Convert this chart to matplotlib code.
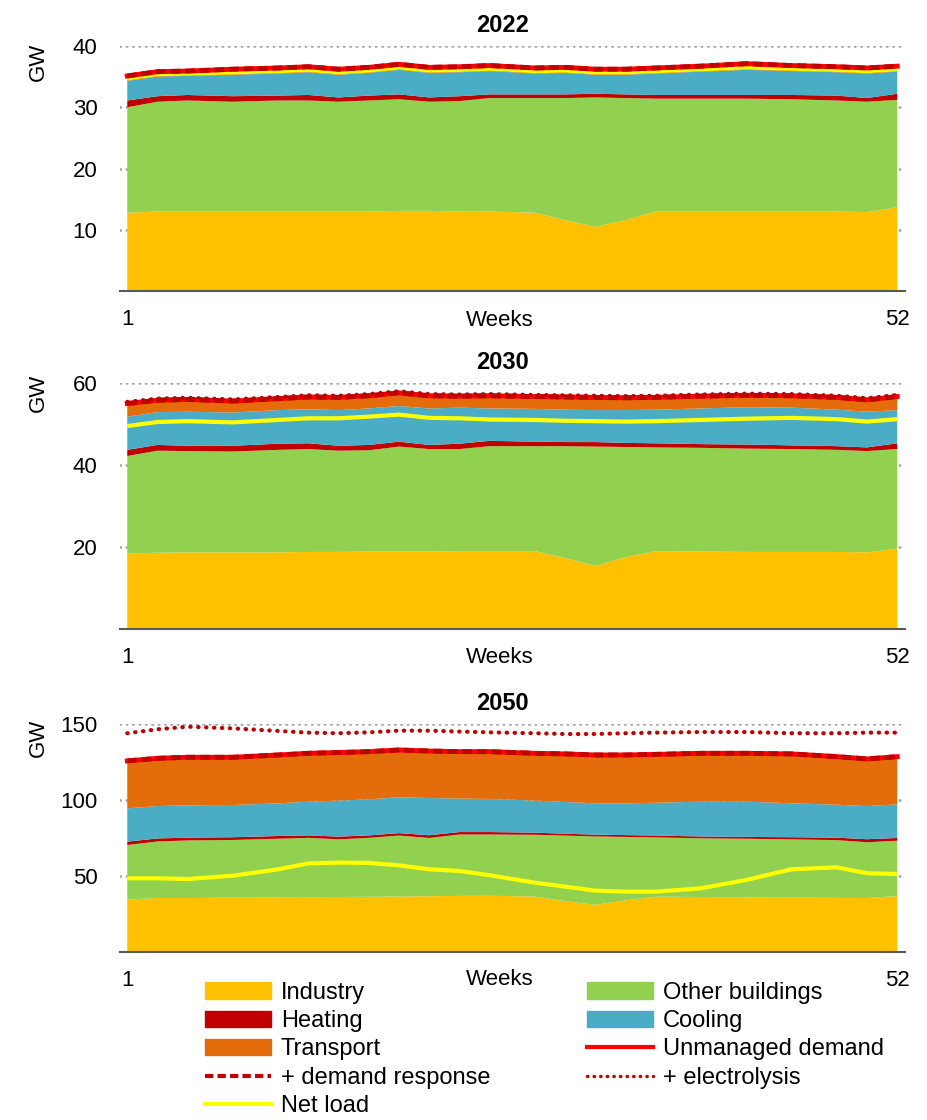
import matplotlib
matplotlib.use('Agg')
import matplotlib.pyplot as plt
from matplotlib.patches import Patch
from matplotlib.lines import Line2D

plt.rcParams['font.family'] = ['Liberation Sans Narrow', 'Liberation Sans', 'DejaVu Sans']

# sample weeks
weeks = [1, 3, 5, 8, 11, 13, 15, 17, 19, 21, 23, 25, 28, 30, 32, 34, 36, 39, 42, 45, 48, 50, 52]

# 2022 (GW per layer)
ind_2022 = [12.8, 13.0, 13.0, 13.0, 13.0, 13.0, 13.0, 13.0, 13.1, 13.1, 13.0, 13.0, 12.8, 11.6, 10.5, 11.6, 13.0, 13.0, 13.0, 13.0, 13.0, 12.9, 13.7]
oth_2022 = [17.2, 17.9, 18.1, 17.9, 18.1, 18.1, 17.9, 18.1, 18.2, 17.8, 18.0, 18.5, 18.7, 19.9, 21.1, 19.9, 18.4, 18.4, 18.4, 18.3, 18.1, 18.0, 17.5]
heat_2022 = [1.1, 0.9, 0.9, 0.9, 0.8, 0.9, 0.7, 0.8, 0.8, 0.7, 0.8, 0.6, 0.6, 0.6, 0.6, 0.6, 0.6, 0.6, 0.6, 0.7, 0.8, 0.6, 1.0]
cool_2022 = [3.2, 3.2, 3.1, 3.5, 3.6, 3.7, 3.7, 3.7, 4.0, 4.0, 3.9, 3.8, 3.4, 3.5, 3.1, 3.2, 3.5, 3.8, 4.1, 3.9, 3.8, 4.0, 3.6]
trans_2022 = [0.8, 0.8, 0.8, 0.9, 0.9, 0.9, 0.9, 0.9, 0.9, 0.9, 0.9, 0.9, 0.9, 0.9, 0.9, 0.9, 0.9, 0.9, 1.0, 0.9, 0.9, 0.9, 0.9]
net_2022 = [34.7, 35.4, 35.5, 35.7, 35.9, 36.1, 35.7, 36.0, 36.5, 36.0, 36.1, 36.3, 35.9, 36.0, 35.7, 35.7, 35.9, 36.2, 36.5, 36.3, 36.1, 35.9, 36.2]
elec_2022 = None  # same as demand

# 2030
ind_2030 = [18.4, 18.6, 18.7, 18.7, 18.7, 18.8, 18.8, 18.9, 18.9, 18.9, 19.0, 19.0, 19.0, 17.3, 15.4, 17.5, 19.0, 18.9, 18.8, 18.8, 18.8, 18.7, 19.6]
oth_2030 = [23.8, 24.9, 24.7, 24.6, 25.0, 25.1, 24.7, 24.7, 25.6, 25.0, 24.9, 25.6, 25.6, 27.3, 29.1, 26.9, 25.3, 25.3, 25.2, 25.1, 24.9, 24.7, 24.3]
heat_2030 = [1.5, 1.4, 1.3, 1.4, 1.5, 1.4, 1.2, 1.3, 1.2, 1.0, 1.3, 1.3, 1.1, 1.0, 1.1, 1.0, 1.0, 0.9, 1.0, 0.9, 0.9, 0.9, 1.4]
cool_2030 = [8.1, 8.0, 8.3, 8.1, 8.2, 8.3, 8.7, 8.9, 8.7, 8.9, 8.8, 7.9, 8.0, 7.9, 7.8, 8.0, 8.2, 8.7, 9.1, 9.2, 8.9, 8.7, 8.1]
trans_2030 = [3.2, 2.9, 3.0, 2.8, 2.8, 3.0, 3.1, 3.1, 3.2, 3.1, 2.8, 3.1, 3.0, 3.1, 3.1, 3.0, 3.0, 3.0, 2.9, 2.9, 3.0, 2.9, 3.3]
net_2030 = [49.5, 50.5, 50.7, 50.4, 51.0, 51.4, 51.4, 51.8, 52.3, 51.5, 51.4, 51.1, 51.0, 50.8, 50.7, 50.6, 50.7, 51.0, 51.3, 51.5, 51.2, 50.6, 51.2]
elec_2030 = [55.4, 56.2, 56.4, 56.0, 56.6, 57.0, 56.9, 57.3, 58.0, 57.3, 57.2, 57.3, 57.1, 57.0, 56.9, 56.8, 56.9, 57.2, 57.4, 57.3, 56.9, 56.3, 57.1]

# 2050
ind_2050 = [34.5, 35.5, 35.5, 35.8, 36.0, 36.1, 36.2, 36.3, 36.5, 36.7, 36.9, 37.0, 36.5, 33.5, 31.0, 34.0, 36.4, 36.2, 36.0, 35.8, 35.6, 35.5, 36.8]
oth_2050 = [35.9, 37.2, 37.9, 37.9, 38.5, 39.0, 37.9, 38.8, 40.1, 38.3, 40.4, 40.3, 40.6, 43.1, 45.0, 41.7, 39.0, 38.6, 38.5, 38.3, 38.0, 36.7, 36.4]
heat_2050 = [2.2, 2.0, 1.8, 1.8, 1.8, 1.6, 1.8, 1.6, 1.6, 1.8, 1.6, 1.6, 1.4, 1.2, 1.2, 1.2, 1.2, 1.2, 1.2, 1.4, 1.6, 2.0, 1.8]
cool_2050 = [21.9, 21.3, 21.3, 21.2, 21.5, 22.2, 23.7, 23.7, 23.6, 24.5, 22.0, 21.8, 21.1, 20.9, 20.6, 20.9, 21.6, 22.9, 23.2, 22.3, 21.7, 21.8, 22.1]
trans_2050 = [31.2, 31.4, 31.6, 31.4, 31.8, 31.8, 31.6, 31.4, 31.1, 30.9, 30.9, 31.1, 31.1, 31.6, 31.8, 31.8, 31.8, 31.8, 31.8, 32.5, 31.6, 31.0, 31.4]
net_2050 = [48.5, 48.5, 48.0, 50.2, 54.4, 58.3, 58.8, 58.6, 57.0, 54.4, 53.3, 50.5, 45.6, 43.0, 40.4, 39.7, 39.7, 41.9, 47.4, 54.4, 55.7, 51.8, 51.3]
elec_2050 = [143.9, 146.5, 148.2, 147.1, 145.4, 144.3, 143.9, 144.5, 145.6, 145.6, 145.0, 144.5, 143.9, 143.4, 143.4, 143.9, 144.3, 144.7, 144.7, 143.9, 143.9, 144.3, 144.3]

layer_names = ['Industry', 'Other buildings', 'Heating', 'Cooling', 'Transport']
layer_colors = ['#FFC000', '#92D050', '#C00000', '#4BACC6', '#E46C0A']

panels = [
    ('2022', [ind_2022, oth_2022, heat_2022, cool_2022, trans_2022], net_2022, elec_2022,
     (0, 40), [10, 20, 30, 40], [0.129, 0.740, 0.846, 0.219], 0.935),
    ('2030', [ind_2030, oth_2030, heat_2030, cool_2030, trans_2030], net_2030, elec_2030,
     (0, 60), [20, 40, 60], [0.129, 0.4384, 0.846, 0.2196], 0.96),
    ('2050', [ind_2050, oth_2050, heat_2050, cool_2050, trans_2050], net_2050, elec_2050,
     (0, 150), [50, 100, 150], [0.129, 0.150, 0.846, 0.2036], 0.94),
]

fig = plt.figure(figsize=(9.28, 11.2), dpi=100)

for title, layers, net, elec, ylim, yticks, pos, gw_y in panels:
    ax = fig.add_axes(pos)
    ax.stackplot(weeks, *layers, colors=layer_colors, linewidth=0)
    demand = [sum(v) for v in zip(*layers)]
    ax.plot(weeks, net, color='#FFFF00', lw=3, solid_capstyle='butt')
    ax.plot(weeks, demand, color='#FF0000', lw=3.5)
    ax.plot(weeks, demand, color='#C00000', lw=3.5, ls=(0, (2, 1)))
    if elec is not None:
        ax.plot(weeks, elec, color='#C00000', lw=3, ls=(0, (0.1, 1.8)), dash_capstyle='round')

    ax.set_xlim(0.5, 52.5)
    ax.set_ylim(*ylim)
    ax.set_yticks(yticks)
    ax.set_xticks([1, 52])
    ax.tick_params(axis='both', length=0, labelsize=16)
    ax.tick_params(axis='y', pad=16)
    ax.tick_params(axis='x', pad=13)
    ax.set_axisbelow(True)
    ax.grid(axis='y', color='#A6A6A6', lw=2, ls=(0, (0.1, 2.2)), dash_capstyle='round')
    for s in ['left', 'right', 'top']:
        ax.spines[s].set_visible(False)
    ax.spines['bottom'].set_color('#595959')
    ax.spines['bottom'].set_linewidth(1.5)

    ax.set_title(title, fontsize=17, fontweight='bold', pad=10, x=0.488)
    ax.set_ylabel('GW', fontsize=16)
    ax.yaxis.set_label_coords(-0.09, gw_y)
    ax.set_xlabel('Weeks', fontsize=16)
    ax.xaxis.set_label_coords(0.484, -0.075)

handles = [
    Patch(color=layer_colors[0]), Patch(color=layer_colors[2]), Patch(color=layer_colors[4]),
    Line2D([], [], color='#C00000', lw=3, ls=(0, (2, 1))),
    Line2D([], [], color='#FFFF00', lw=3),
    Patch(color=layer_colors[1]), Patch(color=layer_colors[3]),
    Line2D([], [], color='#FF0000', lw=3),
    Line2D([], [], color='#C00000', lw=2.5, ls=(0, (0.1, 1.8)), dash_capstyle='round'),
]
labels = ['Industry', 'Heating', 'Transport', '+ demand response', 'Net load',
          'Other buildings', 'Cooling', 'Unmanaged demand', '+ electrolysis']
fig.legend(handles, labels, ncol=2, loc='upper left', bbox_to_anchor=(0.221, 0.1235),
           frameon=False, fontsize=17, handlelength=2.8, handleheight=0.7,
           handletextpad=0.4, labelspacing=0.27, columnspacing=4.1,
           borderpad=0, borderaxespad=0)

fig.savefig('out.png', dpi=100)
